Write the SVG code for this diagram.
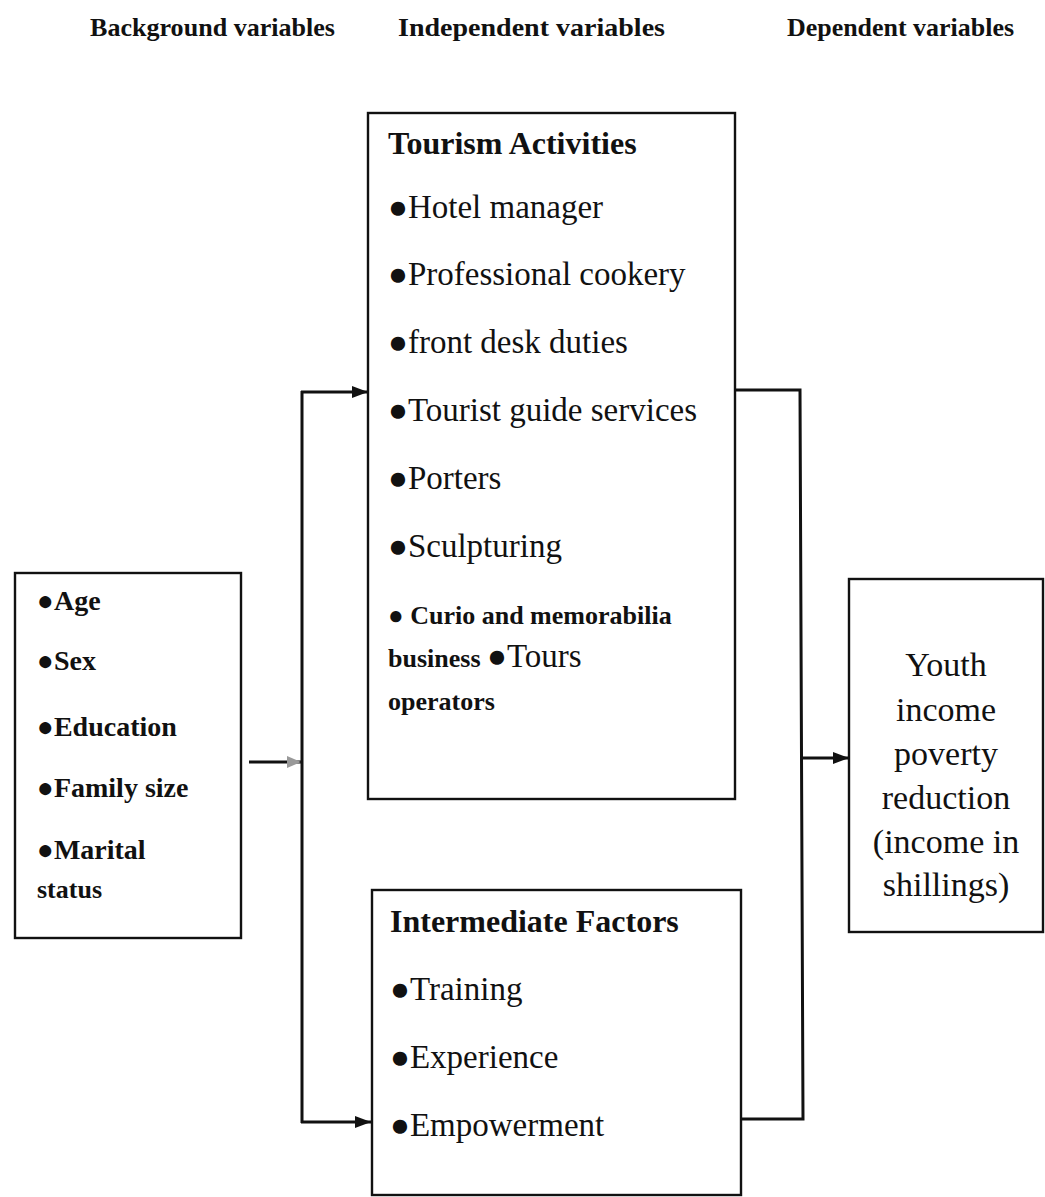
<svg xmlns="http://www.w3.org/2000/svg" width="1045" height="1197" viewBox="0 0 1045 1197">
<style>
  .box { fill: #fff; stroke: #111; stroke-width: 2.4; }
  .hdr { font-family: "Liberation Serif", serif; font-weight: bold; font-size: 26px; fill: #111; }
  .title { font-family: "Liberation Serif", serif; font-weight: bold; font-size: 32px; fill: #111; }
  .item { font-family: "Liberation Serif", serif; font-size: 33px; fill: #111; }
  .left { font-family: "Liberation Serif", serif; font-weight: bold; font-size: 28px; fill: #111; }
  .small { font-family: "Liberation Serif", serif; font-weight: bold; font-size: 26px; fill: #111; }
  .dep { font-family: "Liberation Serif", serif; font-size: 34px; fill: #111; text-anchor: middle; }
  .conn { fill: none; stroke: #111; stroke-width: 3; }
</style>
<defs>
  <marker id="arr" viewBox="0 0 16 12" refX="16" refY="6" markerWidth="16" markerHeight="12" markerUnits="userSpaceOnUse" orient="auto">
    <path d="M0,0 L16,6 L0,12 z" fill="#111"/>
  </marker>
  <marker id="arrFaint" viewBox="0 0 14 12" refX="14" refY="6" markerWidth="14" markerHeight="12" markerUnits="userSpaceOnUse" orient="auto">
    <path d="M0,0 L14,6 L0,12 z" fill="#999"/>
  </marker>
</defs>
<rect width="1045" height="1197" fill="#fff"/>

<g id="headers">
  <text class="hdr" x="90" y="36" textLength="245" lengthAdjust="spacingAndGlyphs">Background variables</text>
  <text class="hdr" x="398" y="36" textLength="267" lengthAdjust="spacingAndGlyphs">Independent variables</text>
  <text class="hdr" x="787" y="36" textLength="227" lengthAdjust="spacingAndGlyphs">Dependent variables</text>
</g>

<g id="connectors">
  <line class="conn" x1="249" y1="762" x2="301" y2="762" marker-end="url(#arrFaint)"/>
  <line class="conn" x1="302" y1="391" x2="302" y2="1123"/>
  <line class="conn" x1="301" y1="392" x2="368" y2="392" marker-end="url(#arr)"/>
  <line class="conn" x1="301" y1="1122" x2="371" y2="1122" marker-end="url(#arr)"/>
  <polyline class="conn" points="735,390 800,390 803,1119 741,1119"/>
  <line class="conn" x1="802" y1="758" x2="849" y2="758" marker-end="url(#arr)"/>
</g>

<g id="background-node">
  <rect class="box" x="15" y="573" width="226" height="365"/>
  <text class="left" x="37" y="610">●Age</text>
  <text class="left" x="37" y="670">●Sex</text>
  <text class="left" x="37" y="736">●Education</text>
  <text class="left" x="37" y="797">●Family size</text>
  <text class="left" x="37" y="859">●Marital</text>
  <text class="small" x="37" y="898">status</text>
</g>

<g id="tourism-node">
  <rect class="box" x="368" y="113" width="367" height="686"/>
  <text class="title" x="388" y="154">Tourism Activities</text>
  <text class="item" x="388" y="218">●Hotel manager</text>
  <text class="item" x="388" y="285">●Professional cookery</text>
  <text class="item" x="388" y="353">●front desk duties</text>
  <text class="item" x="388" y="421">●Tourist guide services</text>
  <text class="item" x="388" y="489">●Porters</text>
  <text class="item" x="388" y="557">●Sculpturing</text>
  <text class="small" x="388" y="624">● Curio and memorabilia</text>
  <text x="388" y="667"><tspan class="small">business </tspan><tspan class="item" font-size="30">●Tours</tspan></text>
  <text class="small" x="388" y="710">operators</text>
</g>

<g id="intermediate-node">
  <rect class="box" x="372" y="890" width="369" height="305"/>
  <text class="title" x="390" y="932" font-size="33">Intermediate Factors</text>
  <text class="item" x="390" y="1000">●Training</text>
  <text class="item" x="390" y="1068">●Experience</text>
  <text class="item" x="390" y="1136">●Empowerment</text>
</g>

<g id="dependent-node">
  <rect class="box" x="849" y="579" width="194" height="353"/>
  <text class="dep" x="946" y="676">Youth</text>
  <text class="dep" x="946" y="721">income</text>
  <text class="dep" x="946" y="765">poverty</text>
  <text class="dep" x="946" y="809">reduction</text>
  <text class="dep" x="946" y="853">(income in</text>
  <text class="dep" x="946" y="896">shillings)</text>
</g>
</svg>
